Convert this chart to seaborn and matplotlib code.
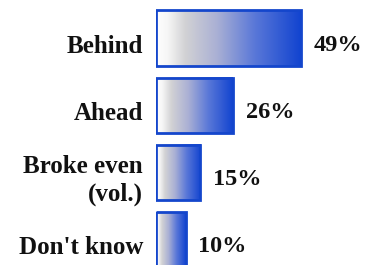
import numpy as np
import pandas as pd
import matplotlib
matplotlib.use("Agg")
import matplotlib.pyplot as plt
from matplotlib.colors import LinearSegmentedColormap
import seaborn as sns

categories = ["Behind", "Ahead", "Broke even\n(vol.)", "Don't know"]
values = [49, 26, 15, 10]
value_labels = ["49%", "26%", "15%", "10%"]

df = pd.DataFrame({"category": categories, "value": values})

sns.set_theme(style="white")
plt.rcParams["font.family"] = ["Liberation Serif", "DejaVu Serif"]

fig = plt.figure(figsize=(3.65, 2.65), dpi=100)
ax = fig.add_axes([156 / 365, 0, 1 - 156 / 365, 1])

sns.barplot(data=df, x="value", y="category", orient="h", ax=ax,
            width=0.82, color="white", edgecolor="#1446cc", linewidth=2.0)

pitch = 67.3
xlim = (0, 209 / 2.95)
ylim = (3 + (265 - 240) / pitch, -38 / pitch)

cmap = LinearSegmentedColormap.from_list(
    "grad",
    [(0.0, "#ffffff"), (0.08, "#f6f6f6"), (0.2, "#d2d2d4"),
     (0.42, "#aab0d4"), (0.68, "#5a78d8"), (1.0, "#1244d0")])
grad = np.linspace(0, 1, 256).reshape(1, -1)
for p in ax.patches:
    x0, y0 = p.get_x(), p.get_y()
    w, h = p.get_width(), p.get_height()
    ax.imshow(grad, cmap=cmap, aspect="auto", extent=(x0, x0 + w, y0 + h, y0),
              zorder=p.get_zorder() - 0.1, interpolation="bilinear")
    p.set_facecolor("none")
    p.set_zorder(3)

ax.set_xlim(*xlim)
ax.set_ylim(*ylim)

for i, (cat, v, lab) in enumerate(zip(categories, values, value_labels)):
    ax.annotate(cat, xy=(0, i), xytext=(-13, -8), textcoords="offset pixels",
                ha="right", va="center", fontsize=18, fontweight="bold",
                color="#111111", linespacing=1.25, multialignment="right",
                annotation_clip=False)
    ax.annotate(lab, xy=(v, i), xytext=(13, -7), textcoords="offset pixels",
                ha="left", va="center", fontsize=17.5, fontweight="bold",
                color="#111111", annotation_clip=False)

ax.set_xticks([])
ax.set_yticks([])
ax.set_xlabel("")
ax.set_ylabel("")
for s in ax.spines.values():
    s.set_visible(False)
ax.set_facecolor("none")

fig.savefig("out.png", dpi=100)
